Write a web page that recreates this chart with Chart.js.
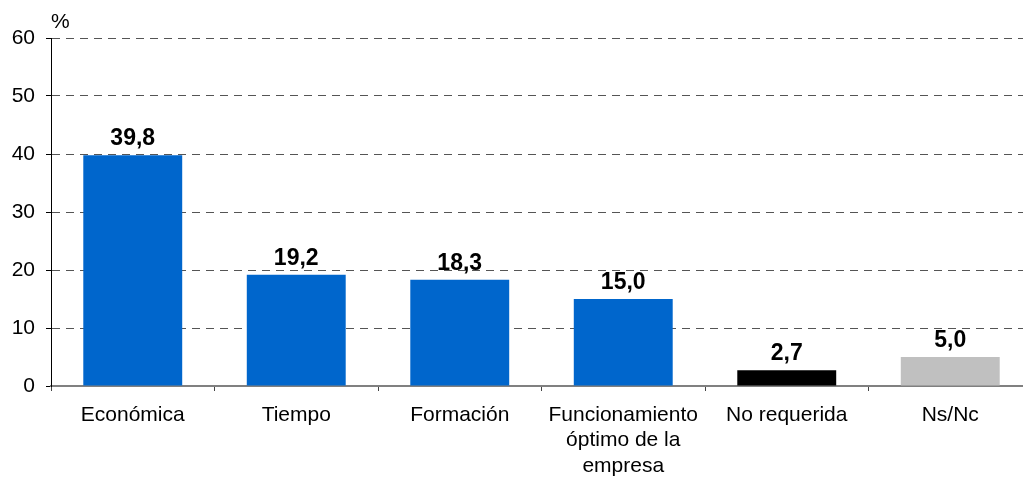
<!DOCTYPE html>
<html>
<head>
<meta charset="utf-8">
<script src="https://cdn.jsdelivr.net/npm/chart.js@4.4.1/dist/chart.umd.min.js"></script>
<style>
html,body{margin:0;padding:0;background:#fff;overflow:hidden;}
#wrap{width:1040px;height:485px;position:relative;}
</style>
</head>
<body>
<div id="wrap"><canvas id="c" width="1040" height="485"></canvas></div>
<script>
const categories = ['Económica', 'Tiempo', 'Formación', ['Funcionamiento', 'óptimo de la', 'empresa'], 'No requerida', 'Ns/Nc'];
const values = [39.8, 19.2, 18.3, 15.0, 2.7, 5.0];
const barColors = ['#0066CC', '#0066CC', '#0066CC', '#0066CC', '#000000', '#C0C0C0'];
const yTicks = [0, 10, 20, 30, 40, 50, 60];
const unitLabel = '%';

const FONT = "'Liberation Sans', Arial, sans-serif";

const labelPlugin = {
  id: 'labels',
  afterDatasetsDraw(chart) {
    const ctx = chart.ctx;
    const meta = chart.getDatasetMeta(0);
    ctx.save();
    ctx.font = 'bold 23px ' + FONT;
    ctx.fillStyle = '#000';
    ctx.textAlign = 'center';
    ctx.textBaseline = 'alphabetic';
    meta.data.forEach((bar, i) => {
      ctx.fillText(values[i].toFixed(1).replace('.', ','), bar.x, bar.y - 10);
    });
    ctx.font = '21px ' + FONT;
    ctx.textAlign = 'left';
    ctx.fillText(unitLabel, chart.chartArea.left, chart.chartArea.top - 10);
    ctx.restore();
  }
};

new Chart(document.getElementById('c'), {
  type: 'bar',
  data: {
    labels: categories,
    datasets: [{
      data: values,
      backgroundColor: barColors,
      borderWidth: 0,
      barPercentage: 0.605,
      categoryPercentage: 1.0
    }]
  },
  options: {
    responsive: false,
    animation: false,
    layout: { padding: { left: 0, right: 8, top: 38, bottom: 0 } },
    plugins: { legend: { display: false }, tooltip: { enabled: false } },
    scales: {
      x: {
        offset: true,
        grid: {
          offset: true,
          drawOnChartArea: false,
          drawTicks: true,
          tickLength: 5,
          tickColor: '#444',
          tickWidth: 1
        },
        border: { color: '#808080', width: 2 },
        ticks: {
          color: '#000',
          font: { family: FONT, size: 21, lineHeight: 1.22 },
          padding: 11,
          maxRotation: 0,
          autoSkip: false
        },
        afterFit(scale) { scale.height = 99; }
      },
      y: {
        min: 0,
        max: 60,
        afterBuildTicks(scale) { scale.ticks = yTicks.map(v => ({ value: v })); },
        grid: {
          color: '#555',
          lineWidth: 1,
          tickLength: 5,
          tickColor: '#000',
          tickBorderDash: [],
          drawTicks: true
        },
        border: { color: '#000', width: 1, dash: [8, 6] },
        ticks: {
          color: '#000',
          font: { family: FONT, size: 21 },
          padding: 11
        },
        afterFit(scale) { scale.width = 51; }
      }
    }
  },
  plugins: [labelPlugin]
});
</script>
</body>
</html>
